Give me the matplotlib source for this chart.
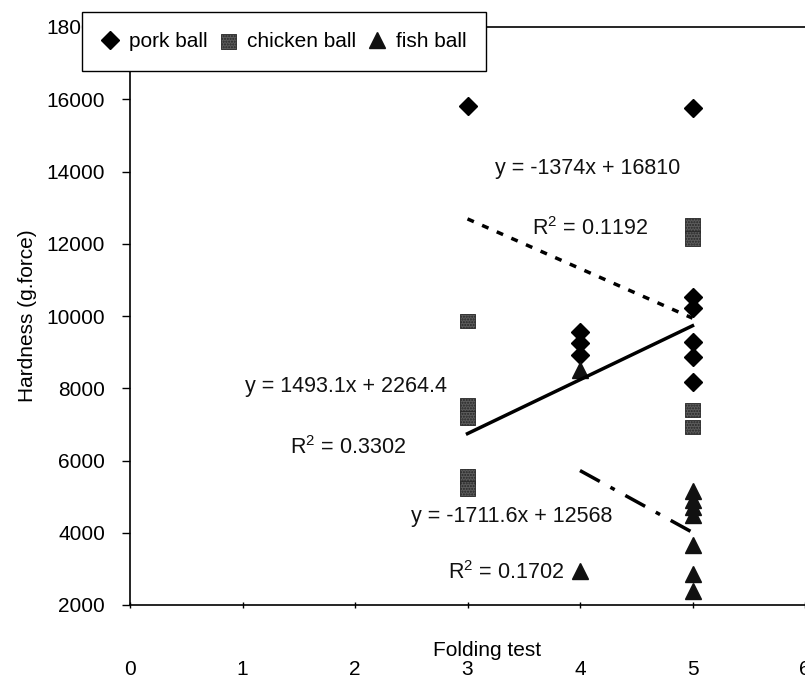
# imports des bibliothèques
import matplotlib
matplotlib.use('Agg')
import matplotlib.pyplot as plt

# police proche d'Arial
plt.rcParams['font.family'] = ['Liberation Sans', 'DejaVu Sans']
plt.rcParams['mathtext.fontset'] = 'custom'
plt.rcParams['mathtext.rm'] = 'Liberation Sans'
plt.rcParams['mathtext.default'] = 'regular'

# données
porc_x = [3, 4, 4, 4, 5, 5, 5, 5, 5, 5]
porc_y = [15800, 9560, 9250, 8920, 15760, 10520, 10220, 9280, 8870, 8170]
poulet_x = [3, 3, 3, 3, 3, 5, 5, 5, 5]
poulet_y = [9860, 7540, 7180, 5560, 5220, 12520, 12150, 7400, 6930]
poisson_x = [4, 4, 5, 5, 5, 5, 5, 5, 5]
poisson_y = [8500, 2950, 5150, 4900, 4700, 4500, 3650, 2850, 2400]

# droites de tendance (pente, ordonnée à l'origine, étendue en x)
pentes = [-1374, 1493.1, -1711.6]
ordonnees = [16810, 2264.4, 12568]
etendues = [(3, 5), (3, 5), (4, 5)]
equations = ["y = -1374x + 16810", "y = 1493.1x + 2264.4", "y = -1711.6x + 12568"]
r2 = ["R$^{2}$ = 0.1192", "R$^{2}$ = 0.3302", "R$^{2}$ = 0.1702"]

x_ticks = [0, 1, 2, 3, 4, 5, 6]
y_ticks = [2000, 4000, 6000, 8000, 10000, 12000, 14000, 16000, 18000]

fig = plt.figure(figsize=(8.05, 6.82), dpi=100)
ax = fig.add_axes([130 / 805, 77 / 682, 675 / 805, 578 / 682])

# nuages de points
ax.plot(porc_x, porc_y, linestyle="none", marker="D", ms=9.5,
        color="black", label="pork ball", zorder=3)
ax.scatter(poulet_x, poulet_y, marker="s", s=110, facecolor="#5c5c5c",
           edgecolor="#262626", hatch="......", linewidth=0.6,
           label="chicken ball", zorder=3)
ax.plot(poisson_x, poisson_y, linestyle="none", marker="^", ms=11.5,
        color="#111111", label="fish ball", zorder=3)

# droites de tendance
styles = [(0, (2, 2.6)), "-", (0, (6.5, 3.5, 1.4, 3.5))]
for pente, b, (x0, x1), ls in zip(pentes, ordonnees, etendues, styles):
    ax.plot([x0, x1], [pente * x0 + b, pente * x1 + b],
            color="black", linestyle=ls, linewidth=2.5, zorder=4)

# équations et R²
pos_eq = [(3.24, 14080), (1.02, 8040), (2.50, 4450)]
pos_r2 = [(3.57, 12430), (1.42, 6350), (2.83, 2910)]
for texte, (xt, yt) in zip(equations, pos_eq):
    ax.text(xt, yt, texte, fontsize=15.5, ha="left", va="center", color="#111111")
for texte, (xt, yt) in zip(r2, pos_r2):
    ax.text(xt, yt, texte, fontsize=15.5, ha="left", va="center", color="#111111")

# axes
ax.set_xlim(0, 6)
ax.set_ylim(2000, 18000)
ax.set_xticks(x_ticks)
ax.set_yticks(y_ticks)
ax.tick_params(axis="y", direction="out", length=6, width=1, pad=12, labelsize=15)
ax.tick_params(axis="x", direction="inout", length=5, width=1, pad=37, labelsize=15)
ax.spines["right"].set_visible(False)
for s in ["left", "bottom", "top"]:
    ax.spines[s].set_linewidth(1.2)

ax.set_xlabel("Folding test", fontsize=15)
ax.xaxis.set_label_coords(0.529, -0.078)
ax.xaxis.label.set_va("center")
ax.set_ylabel("Hardness (g.force)", fontsize=15)
ax.yaxis.set_label_coords(-0.138, 0.5)

# légende
leg = ax.legend(loc="upper left", bbox_to_anchor=(82 / 805, 670 / 682),
                bbox_transform=fig.transFigure, ncol=3, fontsize=15,
                frameon=True, fancybox=False, framealpha=1, borderpad=0.95,
                handlelength=0.8, handletextpad=0.5, columnspacing=0.6,
                borderaxespad=0)
leg.get_frame().set_edgecolor("black")
leg.get_frame().set_linewidth(1)

fig.savefig("out.png", dpi=100)
plt.close(fig)
